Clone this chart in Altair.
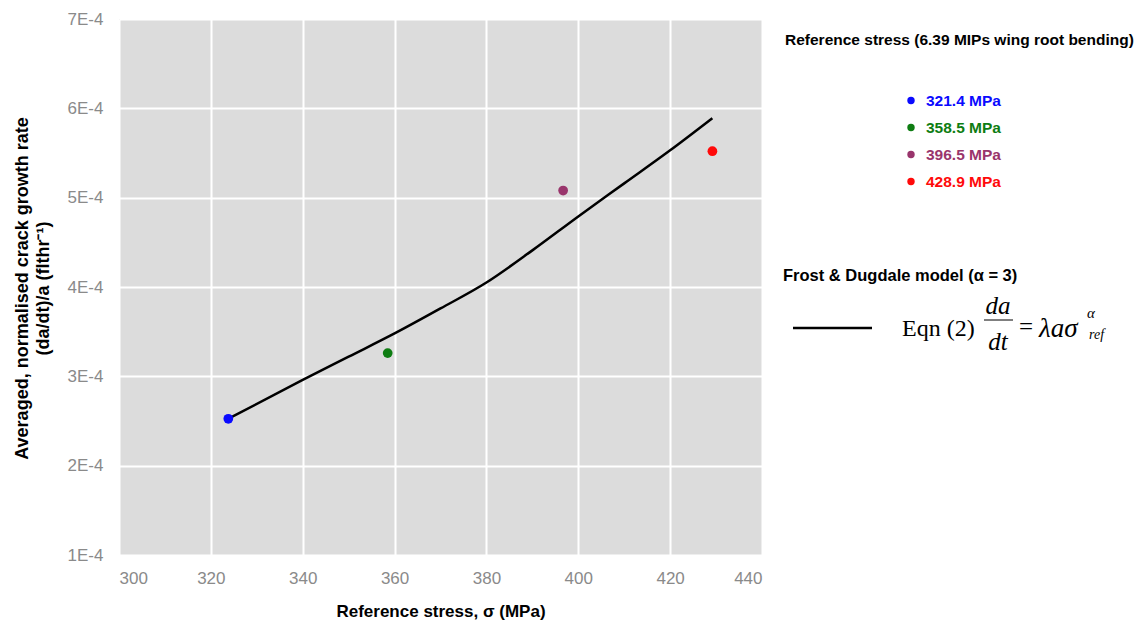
import altair as alt
import pandas as pd

# ---- data ----
stress = [323.8, 358.5, 396.7, 429.2]
rate = [2.525e-4, 3.26e-4, 5.08e-4, 5.52e-4]
legend_labels = ["321.4 MPa", "358.5 MPa", "396.5 MPa", "428.9 MPa"]
point_colors = ["#0a0aff", "#0e7d12", "#99356c", "#ff0a0a"]

model_stress = [323.8, 340, 350, 360, 370, 380, 390, 400, 410, 420, 429.2]
model_rate = [2.525e-4, 2.96e-4, 3.22e-4, 3.48e-4, 3.76e-4, 4.05e-4, 4.41e-4,
              4.79e-4, 5.16e-4, 5.53e-4, 5.89e-4]

x_ticks = [300, 320, 340, 360, 380, 400, 420, 440]
y_ticks = [1e-4, 2e-4, 3e-4, 4e-4, 5e-4, 6e-4, 7e-4]

legend_title = "Reference stress (6.39 MIPs wing root bending)"
model_title = "Frost & Dugdale model (\u03b1 = 3)"

# ---- layout constants ----
OX, OY = 119, 19
W, H = 643, 536
SANS = "Liberation Sans"
SERIF = "Liberation Serif"

pts = pd.DataFrame({"stress": stress, "rate": rate, "label": legend_labels})
model = pd.DataFrame({"stress": model_stress, "rate": model_rate})

xscale = alt.Scale(domain=[300, 440], nice=False, zero=False)
yscale = alt.Scale(domain=[1e-4, 7e-4], nice=False, zero=False)

xaxis = alt.Axis(values=x_ticks, title="Reference stress, \u03c3 (MPa)",
                 labelPadding=15, titleY=61, titleBaseline="alphabetic",
                 titleFontSize=17)
yaxis = alt.Axis(values=y_ticks, labelExpr="round(datum.value*10000) + 'E-4'",
                 title=["Averaged, normalised crack growth rate",
                        "(da/dt)/a (flthr\u207b\u00b9)"],
                 labelPadding=16, titleX=-97, titleY=269, titleBaseline="middle",
                 titleLineHeight=21, titleFontSize=18, titleAngle=270)

line = alt.Chart(model).mark_line(color="black", strokeWidth=2.5,
                                  interpolate="monotone").encode(
    x=alt.X("stress:Q", scale=xscale, axis=xaxis),
    y=alt.Y("rate:Q", scale=yscale, axis=yaxis),
)

points = alt.Chart(pts).mark_point(filled=True, opacity=1, size=95).encode(
    x=alt.X("stress:Q", scale=xscale),
    y=alt.Y("rate:Q", scale=yscale),
    color=alt.Color("label:N", scale=alt.Scale(domain=legend_labels, range=point_colors),
                    legend=None),
)

layers = [line, points]

def txt(s, x, y, size, color="black", weight="normal", font=SANS, style="normal",
        align="left"):
    return alt.Chart(pd.DataFrame({"t": [s]})).mark_text(
        align=align, baseline="middle", fontSize=size, color=color,
        fontWeight=weight, font=font, fontStyle=style,
    ).encode(x=alt.value(x - OX), y=alt.value(y - OY), text="t:N")

layers.append(txt(legend_title, 785, 40, 15.5, weight="bold"))
for i, (lab, col) in enumerate(zip(legend_labels, point_colors)):
    yy = 100.5 + i * 27
    layers.append(alt.Chart(pd.DataFrame({"t": [lab]})).mark_point(
        filled=True, opacity=1, size=55, color=col).encode(
        x=alt.value(911 - OX), y=alt.value(yy - OY)))
    layers.append(txt(lab, 926, yy, 15.5, color=col, weight="bold"))

layers.append(txt(model_title, 783, 276, 16.5, weight="bold"))
layers.append(alt.Chart(pd.DataFrame({"t": [0]})).mark_rule(
    color="black", strokeWidth=2.5).encode(
    x=alt.value(793 - OX), x2=alt.value(872 - OX), y=alt.value(328 - OY)))

layers.append(txt("Eqn (2)", 902, 329, 24, font=SERIF))
layers.append(txt("da", 998, 306, 25, font=SERIF, style="italic", align="center"))
layers.append(alt.Chart(pd.DataFrame({"t": [0]})).mark_rule(
    color="black", strokeWidth=1).encode(
    x=alt.value(984 - OX), x2=alt.value(1013 - OX), y=alt.value(320 - OY)))
layers.append(txt("dt", 998, 342, 25, font=SERIF, style="italic", align="center"))
layers.append(txt("=", 1019, 327, 25, font=SERIF))
layers.append(txt("\u03bba\u03c3", 1039, 329, 27, font=SERIF, style="italic"))
layers.append(txt("\u03b1", 1087, 313, 15, font=SERIF, style="italic"))
layers.append(txt("ref", 1089, 335, 14, font=SERIF, style="italic"))

chart = alt.layer(*layers).properties(
    width=W, height=H,
    autosize=alt.AutoSizeParams(type="none"),
    padding={"left": OX, "top": OY, "right": 1145 - OX - W, "bottom": 625 - OY - H},
    background="white",
).configure_view(fill="#dcdcdc", strokeWidth=0).configure_axis(
    domain=False, ticks=False, grid=True, gridColor="white", gridWidth=2,
    labelFont=SANS, labelFontSize=17, labelColor="#8a8a8a",
    titleFont=SANS, titleFontWeight="bold", titleColor="black",
)

chart.save("out.html", embed_options={"renderer": "svg", "actions": False})
